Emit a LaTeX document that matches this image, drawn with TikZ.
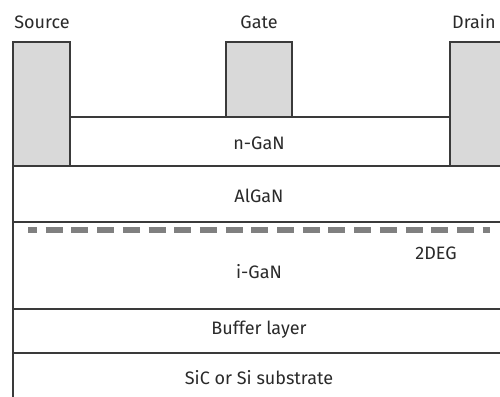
\documentclass[tikz,border=0pt]{standalone}
\usepackage{fontspec}
\setmainfont{Fira Sans}
\definecolor{edge}{HTML}{3A3A3A}
\definecolor{metal}{HTML}{D9D9D9}
\definecolor{deg}{HTML}{808080}
\definecolor{txt}{HTML}{2A2A2A}
\begin{document}
\begin{tikzpicture}[x=1pt,y=-1pt,
  contact/.style={draw=edge,fill=metal,line width=2.4pt,inner sep=0pt,outer sep=0pt},
  layerline/.style={draw=edge,line width=2.4pt},
  lbl/.style={font=\fontsize{18}{20}\selectfont,text=txt,inner sep=0pt}]
\useasboundingbox (0,0) rectangle (500,396);
\fill[white] (0,0) rectangle (500,396);
% layer lines
\draw[layerline] (13,166) -- (510,166);
\draw[layerline] (70,117) -- (450,117);
\draw[layerline] (13,222) -- (510,222);
\draw[layerline] (13,309) -- (510,309);
\draw[layerline] (13,353) -- (510,353);
\draw[layerline] (13,164.9) -- (13,400);
% contacts
\node[contact,minimum width=57pt,minimum height=124pt] (src) at (41.5,104) {};
\node[contact,minimum width=66pt,minimum height=75pt] (gate) at (259,79.5) {};
\node[contact,minimum width=60pt,minimum height=124pt] (drn) at (480,104) {};
% 2DEG
\coordinate (dA) at (28,230);
\coordinate (dB) at (490,230);
\draw[deg,line width=6.5pt,dash pattern=on 17pt off 8.7pt,dash phase=8pt] (dA) -- (dB);
% labels
\node[lbl] (tsrc) at (42,22) {Source};
\node[lbl] (tgate) at (259,22) {Gate};
\node[lbl,anchor=west] (tdrn) at (452,22) {Drain};
\node[lbl] (tn) at (259,143) {n-GaN};
\node[lbl] (tal) at (259,196) {AlGaN};
\node[lbl] (ti) at (259,272) {i-GaN};
\node[lbl] (t2) at (436,253) {2DEG};
\node[lbl] (tb) at (259,330) {Buffer layer};
\node[lbl] (ts) at (259,378) {SiC or Si substrate};
\end{tikzpicture}
\end{document}
